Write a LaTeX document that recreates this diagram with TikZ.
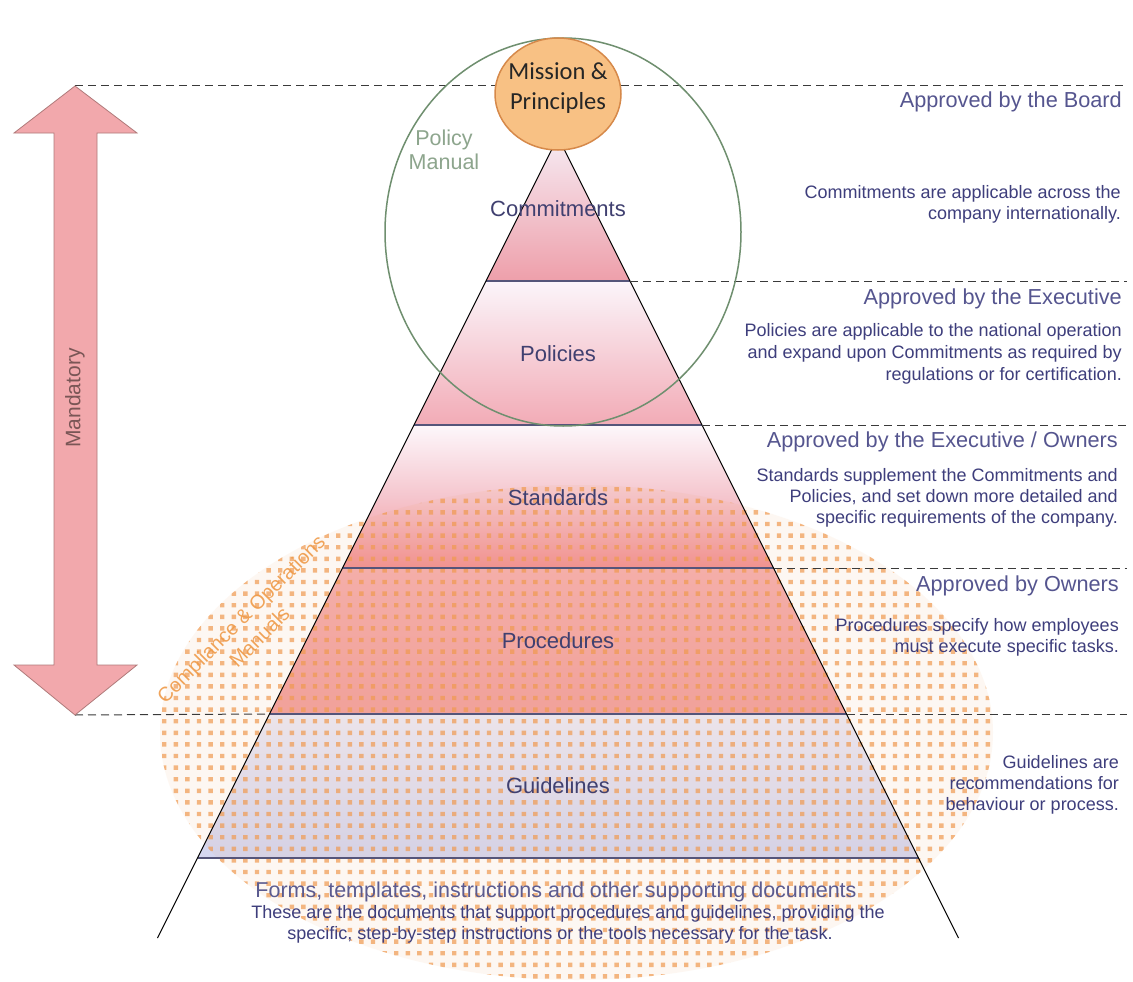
\documentclass[tikz,border=0pt]{standalone}
\usepackage{fontspec}
\setmainfont{Liberation Sans}
\newfontfamily\calfont{Carlito}
\usetikzlibrary{shapes.geometric}

\definecolor{headcol}{HTML}{55558F}
\definecolor{bodycol}{HTML}{3E3E7C}
\definecolor{tiercol}{HTML}{404070}
\definecolor{tierln}{HTML}{55557A}
\definecolor{dashcol}{HTML}{3A3A3A}
\definecolor{dotcol}{HTML}{F09A50}
\definecolor{pmgreen}{HTML}{6F8F6F}
\definecolor{pmtext}{HTML}{8DA58D}
\definecolor{missionfill}{HTML}{F8C184}
\definecolor{missionline}{HTML}{D6894A}
\definecolor{mandfill}{HTML}{F2A8AC}
\definecolor{mandline}{HTML}{B07A7A}
\definecolor{mandtext}{HTML}{7A5656}
\definecolor{comptext}{HTML}{EF9A48}
% tier fill colours
\definecolor{commitTop}{HTML}{F6EBF3}
\definecolor{commitBot}{HTML}{EE9FAA}
\definecolor{policyTop}{HTML}{FBF5FA}
\definecolor{policyBot}{HTML}{F2ABB6}
\definecolor{standTop}{HTML}{FDF7FB}
\definecolor{standMid}{HTML}{F5C6CE}
\definecolor{standBot}{HTML}{F29294}
\definecolor{procTop}{HTML}{F5B0B0}
\definecolor{procBot}{HTML}{F2A2A0}
\definecolor{guideTop}{HTML}{ECEAF6}
\definecolor{guideBot}{HTML}{D4D6F0}

\tikzset{
  pyredge/.style={draw=black, line width=1.1pt},
  tierrule/.style={draw=tierln, line width=1.2pt},
  levelrule/.style={draw=dashcol, line width=1pt, dash pattern=on 8pt off 5pt},
  apphead/.style={font=\fontsize{21.7}{25}\selectfont, text=headcol, anchor=base east, inner sep=0pt},
  appbody/.style={font=\fontsize{18}{21}\selectfont, text=bodycol, anchor=base east, inner sep=0pt},
  tierlabel/.style={font=\fontsize{22}{26}\selectfont, text=tiercol, anchor=base, inner sep=0pt},
  footbody/.style={font=\fontsize{18}{21}\selectfont, text=bodycol, anchor=base, inner sep=0pt},
}

\begin{document}
\begin{tikzpicture}[x=1pt,y=-1pt]
\useasboundingbox (0,0) rectangle (1133,982);
\fill[white] (0,0) rectangle (1133,982);

% pyramid corner points, one pair per tier boundary
\coordinate (apex) at (558,137);
\coordinate (c1l) at (486,281);   \coordinate (c1r) at (630,281);
\coordinate (c2l) at (414,425);   \coordinate (c2r) at (702,425);
\coordinate (c3l) at (342.5,568); \coordinate (c3r) at (773.5,568);
\coordinate (c4l) at (269.5,714); \coordinate (c4r) at (846.5,714);
\coordinate (c5l) at (197.5,858); \coordinate (c5r) at (918.5,858);
\coordinate (c6l) at (157.5,938); \coordinate (c6r) at (958.5,938);

% tier fills
\shade[top color=commitTop, bottom color=commitBot] (apex) -- (c1r) -- (c1l) -- cycle;
\shade[top color=policyTop, bottom color=policyBot] (c1l) -- (c1r) -- (c2r) -- (c2l) -- cycle;
\shade[top color=standTop, bottom color=standBot, middle color=standMid] (c2l) -- (c2r) -- (c3r) -- (c3l) -- cycle;
\shade[top color=procTop, bottom color=procBot] (c3l) -- (c3r) -- (c4r) -- (c4l) -- cycle;
\shade[top color=guideTop, bottom color=guideBot] (c4l) -- (c4r) -- (c5r) -- (c5l) -- cycle;

% dotted ellipse of the compliance & operations manuals
\begin{scope}
  \clip (576.5,732.5) ellipse [x radius=416.5, y radius=247.5];
  \fill[dotcol, opacity=0.07] (150,480) rectangle (1000,985);
  \fill[dotcol, opacity=0.7]
    \foreach \i in {0,...,72} {\foreach \j in {0,...,43} {(162+\i*11.6,487+\j*11.6) rectangle ++(4.4,4.4)}};
\end{scope}

% pyramid outline and tier boundaries
\draw[tierrule] (c1l) -- (c1r);
\draw[tierrule] (c2l) -- (c2r);
\draw[tierrule] (c3l) -- (c3r);
\draw[tierrule] (c4l) -- (c4r);
\draw[tierrule] (c5l) -- (c5r);
\draw[pyredge] (apex) -- (c6l);
\draw[pyredge] (apex) -- (c6r);

% approval levels
\coordinate (mandT) at (75,86);
\coordinate (mandB) at (75,715);
\coordinate (r0) at (1127,86);
\coordinate (r1) at (1127,281);
\coordinate (r2) at (1127,425);
\coordinate (r3) at (1127,568);
\coordinate (r4) at (1127,714);
\draw[levelrule] (mandT) -- (r0);
\draw[levelrule] (c1r) -- (r1);
\draw[levelrule] (c2r) -- (r2);
\draw[levelrule] (c3r) -- (r3);
\draw[levelrule] (mandB) -- (c4l);
\draw[levelrule] (c4r) -- (r4);

% policy manual
\node[draw=pmgreen, line width=1.5pt, ellipse, minimum width=356pt, minimum height=388pt, inner sep=0pt] (pm) at (563,232) {};
\node[font=\fontsize{21.5}{24}\selectfont, text=pmtext, align=center, inner sep=0pt] (pmlabel) at (444,150) {Policy\\Manual};

% mission & principles
\node[draw=missionline, fill=missionfill, line width=1.5pt, ellipse, minimum width=126pt, minimum height=112pt, inner sep=0pt] (mission) at (558,94) {};
\node[font=\calfont\fontsize{24.5}{30}\selectfont, text=black!85, align=center, inner sep=0pt] (missionlbl) at (558,88) {Mission \&\\Principles};

% mandatory arrow
\fill[mandfill, draw=mandline, line width=0.8pt]
  (mandT) -- (137,133) -- (97,133) -- (97,665) -- (137,665) -- (mandB)
  -- (14,665) -- (54,665) -- (54,133) -- (14,133) -- cycle;
\node[rotate=90, font=\fontsize{21}{25}\selectfont, text=mandtext, inner sep=0pt] (mandlbl) at (75,398) {Mandatory};

% tier names
\node[tierlabel] (tc) at (558,216) {Commitments};
\node[tierlabel] (tp) at (558,361) {Policies};
\node[tierlabel] (ts) at (558,505) {Standards};
\node[tierlabel] (tr) at (558,648) {Procedures};
\node[tierlabel] (tg) at (558,793) {Guidelines};

\node[rotate=45, font=\fontsize{20}{26}\selectfont, text=comptext, align=center, inner sep=0pt, opacity=0.9] (cmlabel) at (250,628) {Compliance \& Operations\\Manuals};

% right-hand descriptions
\node[apphead] (h0) at (1122,107) {Approved by the Board};
\node[appbody] (b0a) at (1121,198) {Commitments are applicable across the};
\node[appbody] (b0b) at (1121,219) {company internationally.};

\node[apphead] (h1) at (1122,304) {Approved by the Executive};
\node[appbody] (b1a) at (1122,336) {Policies are applicable to the national operation};
\node[appbody] (b1b) at (1122,358) {and expand upon Commitments as required by};
\node[appbody] (b1c) at (1122,380) {regulations or for certification.};

\node[apphead] (h2) at (1118,447) {Approved by the Executive / Owners};
\node[appbody] (b2a) at (1118,481) {Standards supplement the Commitments and};
\node[appbody] (b2b) at (1118,502) {Policies, and set down more detailed and};
\node[appbody] (b2c) at (1118,523) {specific requirements of the company.};

\node[apphead] (h3) at (1119,591) {Approved by Owners};
\node[appbody] (b3a) at (1119,631) {Procedures specify how employees};
\node[appbody] (b3b) at (1119,652) {must execute specific tasks.};

\node[appbody] (b4a) at (1119,768) {Guidelines are};
\node[appbody] (b4b) at (1119,789) {recommendations for};
\node[appbody] (b4c) at (1119,810) {behaviour or process.};

% supporting documents
\node[font=\fontsize{21.5}{25}\selectfont, text=bodycol!85, anchor=base, inner sep=0pt] (fh) at (556,897) {Forms, templates, instructions and other supporting documents};
\node[footbody] (fa) at (568,918) {These are the documents that support procedures and guidelines, providing the};
\node[footbody] (fb) at (560,939) {specific, step-by-step instructions or the tools necessary for the task.};
\end{tikzpicture}
\end{document}
